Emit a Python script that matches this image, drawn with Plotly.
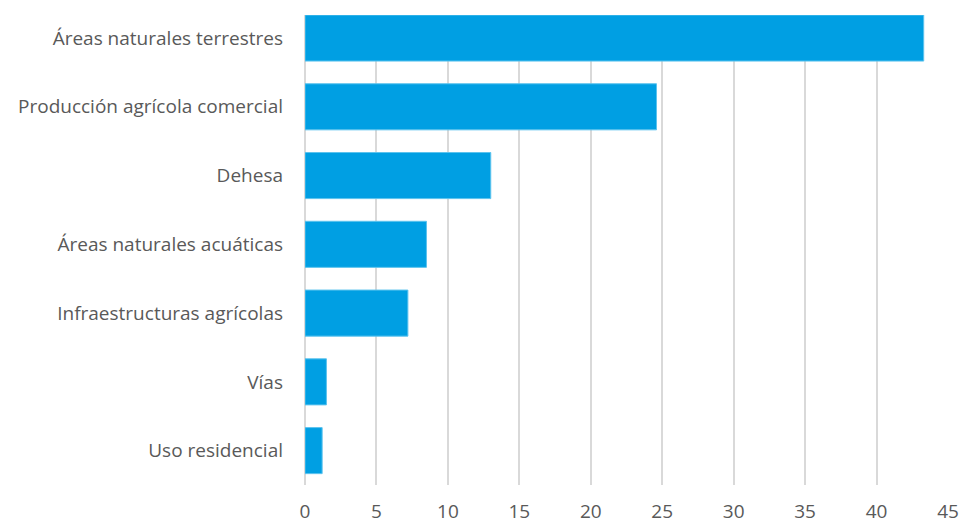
import plotly.graph_objects as go

# ── Data ─────────────────────────────────────────────────────────────────────
categories = [
    "Áreas naturales terrestres",
    "Producción agrícola comercial",
    "Dehesa",
    "Áreas naturales acuáticas",
    "Infraestructuras agrícolas",
    "Vías",
    "Uso residencial",
]
values = [43.3, 24.6, 13.0, 8.5, 7.2, 1.5, 1.2]
x_ticks = [0, 5, 10, 15, 20, 25, 30, 35, 40, 45]

BAR = "#009fe3"
GRID = "#d9d9d9"
TEXT = "#595959"

fig = go.Figure()
fig.add_trace(go.Bar(
    y=categories,
    x=values,
    orientation="h",
    marker=dict(color=BAR, line=dict(color="#5cc3ee", width=1)),
))

fig.update_layout(
    width=961, height=523,
    paper_bgcolor="white",
    plot_bgcolor="white",
    font=dict(family="Open Sans, sans-serif", color=TEXT, size=19),
    margin=dict(l=305, r=13, t=15, b=38),
    bargap=0.33,
    showlegend=False,
)
fig.update_xaxes(
    range=[0, 45],
    tickvals=x_ticks,
    showgrid=True, gridcolor=GRID, gridwidth=2,
    zeroline=True, zerolinecolor=GRID, zerolinewidth=2,
    showline=False,
    automargin=False,
    ticklabelstandoff=13,
    tickfont=dict(size=19),
)
fig.update_yaxes(
    categoryorder="array",
    categoryarray=categories[::-1],
    range=[-0.5, 6.335],   # top bar sits flush with the top of the grid
    showgrid=False, showline=False,
    automargin=False,
    ticklabelstandoff=21,
    tickfont=dict(size=19),
)

# drop the default 8px body margin so the figure fills the window exactly
fig.write_html(
    "out.html",
    config={"displayModeBar": False},
    post_script="document.body.style.margin='0';",
)
